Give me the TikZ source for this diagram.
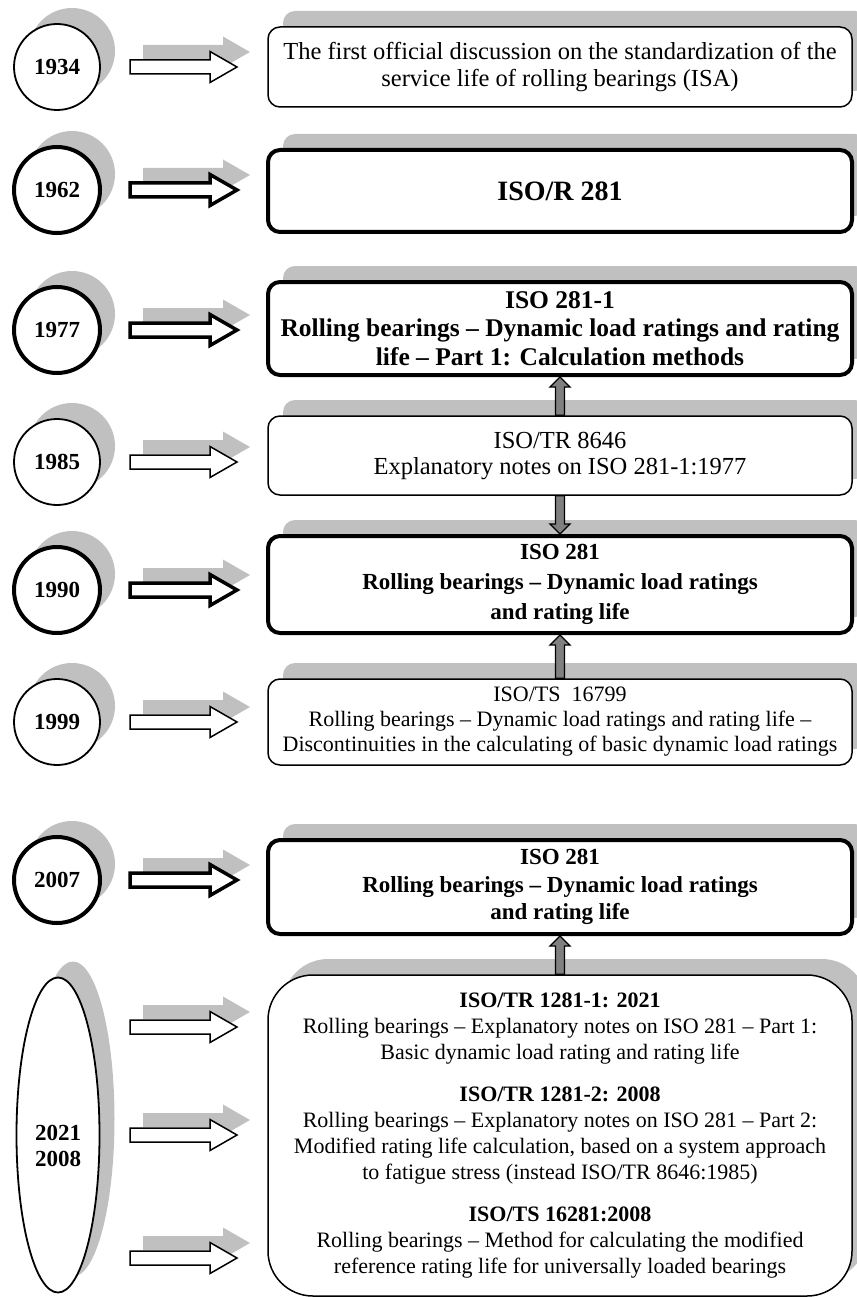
\documentclass[tikz,border=0pt]{standalone}
\usepackage{fontspec}
\setmainfont{Liberation Serif}
\usetikzlibrary{shapes.geometric,shadows,calc}
\definecolor{shadowgray}{HTML}{C0C0C0}
\definecolor{arrgray}{HTML}{808080}
\newcommand\arrUp[2]{\path[fill=arrgray,draw=black,line width=1.3pt] let \p1=(#1.north), \p2=(#2.south) in (\x1-4.5pt,\y1) -- (\x1-4.5pt,\y2-10pt) -- (\x1-10pt,\y2-10pt) -- (\x1,\y2) -- (\x1+10pt,\y2-10pt) -- (\x1+4.5pt,\y2-10pt) -- (\x1+4.5pt,\y1) -- cycle;}
\newcommand\arrDown[2]{\path[fill=arrgray,draw=black,line width=1.3pt] let \p1=(#1.south), \p2=(#2.north) in (\x1-4.5pt,\y1) -- (\x1-4.5pt,\y2+10pt) -- (\x1-10pt,\y2+10pt) -- (\x1,\y2) -- (\x1+10pt,\y2+10pt) -- (\x1+4.5pt,\y2+10pt) -- (\x1+4.5pt,\y1) -- cycle;}
% block arrow: #1 = name, #2 = x, #3 = y (center), #4 = line width
\newcommand\blockArr[4]{%
  \fill[shadowgray, shift={(#2+13,#3-15)}] (-53.5,-7) -- (26.5,-7) -- (26.5,-15.5) -- (53.5,0) -- (26.5,15.5) -- (26.5,7) -- (-53.5,7) -- cycle;
  \draw[fill=white, line width=#4, miter limit=4, shift={(#2,#3)}] (-53.5,-7) -- (26.5,-7) -- (26.5,-15.5) -- (53.5,0) -- (26.5,15.5) -- (26.5,7) -- (-53.5,7) -- cycle;
  \coordinate (#1) at (#2,#3);}
\tikzset{
  shd/.style={drop shadow={shadow xshift=15pt, shadow yshift=16pt, fill=shadowgray, opacity=1}},
  box/.style={draw, rounded corners=12pt, fill=white, line width=1.5pt, minimum width=584pt,
    align=center, inner sep=2pt, shd},
  boldbox/.style={box, line width=4pt},
  yr/.style={circle, draw, fill=white, line width=1.8pt, minimum size=86pt, inner sep=0pt,
    font=\fontsize{23}{26}\selectfont\bfseries, shd},
  boldyr/.style={yr, line width=4pt},
}
\begin{document}
\begin{tikzpicture}[x=1pt,y=-1pt]
\useasboundingbox (0,0) rectangle (856,1297);
% 1934
\node[yr] (y1934) at (57,67) {1934};
\blockArr{a1934}{183.5}{67}{1.5pt}
\node[box, minimum height=80pt, font=\fontsize{24.5}{27}\selectfont] (b1934) at (560,67) {The first official discussion on the standardization of the\\service life of rolling bearings (ISA)};
% 1962
\node[boldyr] (y1962) at (57,190) {1962};
\blockArr{a1962}{183.5}{190}{3.5pt}
\node[boldbox, minimum height=82pt, font=\fontsize{28}{30}\selectfont\bfseries] (b1962) at (560,191) {ISO/R 281};
% 1977
\node[boldyr] (y1977) at (57,330) {1977};
\blockArr{a1977}{183.5}{330}{3.5pt}
\node[boldbox, minimum height=93pt, font=\fontsize{25.5}{28.5}\selectfont\bfseries] (b1977) at (560,328.5) {ISO 281-1\\Rolling bearings – Dynamic load ratings and rating\\life – Part 1: Calculation methods};
% 1985
\node[yr] (y1985) at (57,462) {1985};
\blockArr{a1985}{183.5}{462}{1.5pt}
\node[box, minimum height=79pt, font=\fontsize{24.5}{26}\selectfont] (b1985) at (560,455.5) {ISO/TR 8646\\Explanatory notes on ISO 281-1:1977};
% 1990
\node[boldyr] (y1990) at (57,590) {1990};
\blockArr{a1990}{183.5}{590}{3.5pt}
\node[boldbox, minimum height=97pt, font=\fontsize{23}{30}\selectfont\bfseries] (b1990) at (560,584.5) {ISO 281\\Rolling bearings – Dynamic load ratings\\and rating life};
% 1999
\node[yr] (y1999) at (57,722) {1999};
\blockArr{a1999}{183.5}{722}{1.5pt}
\node[box, minimum height=86pt, font=\fontsize{22}{25}\selectfont] (b1999) at (560,722) {ISO/TS\ \ 16799\\Rolling bearings – Dynamic load ratings and rating life –\\Discontinuities in the calculating of basic dynamic load ratings};
% 2007
\node[boldyr] (y2007) at (57,880) {2007};
\blockArr{a2007}{183.5}{880}{3.5pt}
\node[boldbox, minimum height=94pt, font=\fontsize{23}{27.5}\selectfont\bfseries] (b2007) at (560,887) {ISO 281\\Rolling bearings – Dynamic load ratings\\and rating life};
% 2021 / 2008
\node[ellipse, draw, fill=white, line width=1.8pt, minimum width=83pt, minimum height=315pt, inner sep=0pt, shd,
  label={[align=center, font=\fontsize{23}{26}\selectfont\bfseries, yshift=-11pt]center:2021\\2008}] (y2021) at (58,1135) {};
\blockArr{a2021a}{183.5}{1027}{1.5pt}
\blockArr{a2021b}{183.5}{1135}{1.5pt}
\blockArr{a2021c}{183.5}{1258}{1.5pt}
\node[box, rounded corners=45pt, minimum height=321pt, font=\fontsize{22}{26}\selectfont] (b2021) at (560,1135.5) {\textbf{ISO/TR 1281-1: 2021}\\Rolling bearings – Explanatory notes on ISO 281 – Part 1:\\Basic dynamic load rating and rating life\\[16pt]\textbf{ISO/TR 1281-2: 2008}\\Rolling bearings – Explanatory notes on ISO 281 – Part 2:\\Modified rating life calculation, based on a system approach\\to fatigue stress (instead ISO/TR 8646:1985)\\[16pt]\textbf{ISO/TS 16281:2008}\\Rolling bearings – Method for calculating the modified\\reference rating life for universally loaded bearings};
% vertical connectors
\arrUp{b1985}{b1977}
\arrDown{b1985}{b1990}
\arrUp{b1999}{b1990}
\arrUp{b2021}{b2007}
\end{tikzpicture}
\end{document}
